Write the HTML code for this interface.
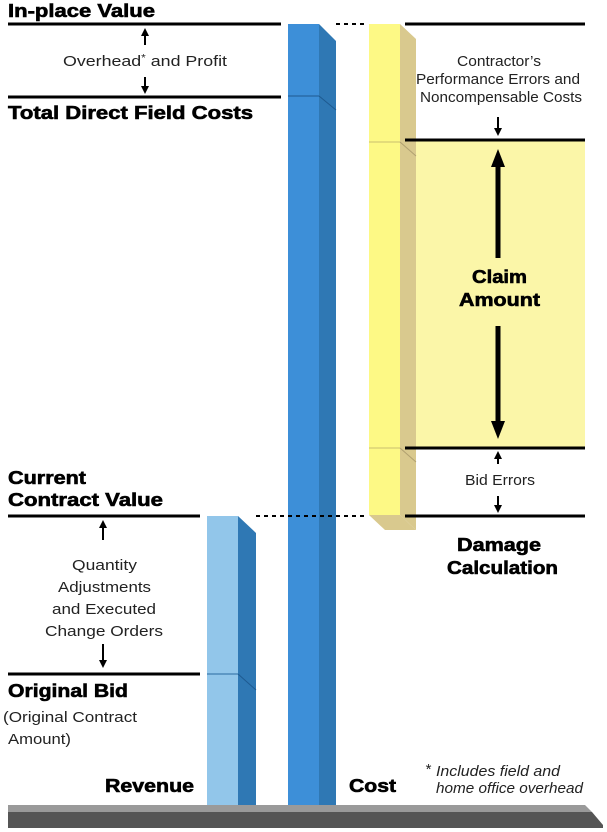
<!DOCTYPE html>
<html><head><style>
html,body{margin:0;padding:0;background:#fff;}
svg{display:block;}
text{font-family:"Liberation Sans",sans-serif;}
.b{font-weight:bold;font-size:18px;fill:#000;stroke:#000;stroke-width:0.6px;}
.n{font-size:15px;fill:#222;}
</style></head><body>
<svg width="607" height="832" viewBox="0 0 607 832">
<defs>
<marker id="a" markerWidth="8" markerHeight="8" refX="4" refY="4" orient="auto" markerUnits="userSpaceOnUse"><path d="M0,0 L8,4 L0,8 z" fill="#000"/></marker>
<marker id="A" markerWidth="18" markerHeight="18" refX="9" refY="9" orient="auto" markerUnits="userSpaceOnUse"><path d="M0,2 L18,9 L0,16 z" fill="#000"/></marker>
</defs>
<rect x="405" y="140" width="180" height="308" fill="#fbf6a8"/>
<polygon points="400,24 416,39 416,530 400,515" fill="#d9c98e"/>
<polygon points="369,515 400,515 416,530 385,530" fill="#d9c98e"/>
<rect x="369" y="24" width="31" height="491" fill="#fdf985"/>
<line x1="369" y1="142" x2="400" y2="142" stroke="#c9c070" stroke-width="1"/>
<line x1="400" y1="142" x2="416" y2="156" stroke="#b0a070" stroke-width="1"/>
<line x1="369" y1="448" x2="400" y2="448" stroke="#c9c070" stroke-width="1"/>
<line x1="400" y1="448" x2="416" y2="462" stroke="#b0a070" stroke-width="1"/>
<polygon points="319,24 336,41 336,805 319,805" fill="#2f78b4"/>
<rect x="288" y="24" width="31" height="781" fill="#3d8fd8"/>
<line x1="288" y1="96" x2="319" y2="96" stroke="#1e5a90" stroke-width="1"/>
<line x1="319" y1="96" x2="336" y2="110" stroke="#1e5a90" stroke-width="1"/>
<polygon points="238,516 256,533 256,805 238,805" fill="#2f78b4"/>
<rect x="207" y="516" width="31" height="289" fill="#92c6ea"/>
<line x1="207" y1="674" x2="238" y2="674" stroke="#2a6aa0" stroke-width="1"/>
<line x1="238" y1="674" x2="256" y2="690" stroke="#1e5a90" stroke-width="1"/>
<polygon points="8,805 585,805 592,812 8,812" fill="#9a9a9a"/>
<polygon points="8,812 592,812 603,825 603,828 8,828" fill="#555"/>
<g stroke="#000" stroke-width="3">
<line x1="8" y1="24" x2="281" y2="24"/>
<line x1="8" y1="97" x2="281" y2="97"/>
<line x1="405" y1="24" x2="585" y2="24"/>
<line x1="405" y1="140" x2="585" y2="140"/>
<line x1="405" y1="448" x2="585" y2="448"/>
<line x1="405" y1="516" x2="585" y2="516"/>
<line x1="8" y1="516" x2="200" y2="516"/>
<line x1="8" y1="674" x2="200" y2="674"/>
</g>
<g stroke="#000" stroke-width="2" stroke-dasharray="4,4">
<line x1="336" y1="24" x2="364" y2="24"/>
<line x1="256" y1="516" x2="364" y2="516"/>
</g>
<g stroke="#000" stroke-width="2">
<line x1="145" y1="45" x2="145" y2="32" marker-end="url(#a)"/>
<line x1="145" y1="77" x2="145" y2="90" marker-end="url(#a)"/>
<line x1="498" y1="117" x2="498" y2="132" marker-end="url(#a)"/>
<line x1="498" y1="464" x2="498" y2="455" marker-end="url(#a)"/>
<line x1="498" y1="496" x2="498" y2="509" marker-end="url(#a)"/>
<line x1="103" y1="540" x2="103" y2="524" marker-end="url(#a)"/>
<line x1="103" y1="644" x2="103" y2="664" marker-end="url(#a)"/>
</g>
<g stroke="#000" stroke-width="5">
<line x1="498" y1="258" x2="498" y2="158" marker-end="url(#A)"/>
<line x1="498" y1="326" x2="498" y2="430" marker-end="url(#A)"/>
</g>
<text class="b" x="8" y="17" textLength="147" lengthAdjust="spacingAndGlyphs">In-place Value</text>
<text class="n" x="63" y="66" textLength="164" lengthAdjust="spacingAndGlyphs">Overhead<tspan dy="-5" font-size="10">*</tspan><tspan dy="5"> and Profit</tspan></text>
<text class="b" x="8" y="119" textLength="245" lengthAdjust="spacingAndGlyphs">Total Direct Field Costs</text>
<text class="n" x="457" y="66" textLength="84" lengthAdjust="spacingAndGlyphs">Contractor’s</text>
<text class="n" x="416" y="84" textLength="164" lengthAdjust="spacingAndGlyphs">Performance Errors and</text>
<text class="n" x="420" y="102" textLength="162" lengthAdjust="spacingAndGlyphs">Noncompensable Costs</text>
<text class="b" x="472" y="283" textLength="55" lengthAdjust="spacingAndGlyphs">Claim</text>
<text class="b" x="459" y="306" textLength="81" lengthAdjust="spacingAndGlyphs">Amount</text>
<text class="n" x="465" y="485" textLength="70" lengthAdjust="spacingAndGlyphs">Bid Errors</text>
<text class="b" x="457" y="551" textLength="84" lengthAdjust="spacingAndGlyphs">Damage</text>
<text class="b" x="447" y="574" textLength="111" lengthAdjust="spacingAndGlyphs">Calculation</text>
<text class="b" x="8" y="484" textLength="78" lengthAdjust="spacingAndGlyphs">Current</text>
<text class="b" x="8" y="506" textLength="155" lengthAdjust="spacingAndGlyphs">Contract Value</text>
<text class="n" x="72" y="570" textLength="65" lengthAdjust="spacingAndGlyphs">Quantity</text>
<text class="n" x="58" y="592" textLength="93" lengthAdjust="spacingAndGlyphs">Adjustments</text>
<text class="n" x="52" y="614" textLength="104" lengthAdjust="spacingAndGlyphs">and Executed</text>
<text class="n" x="45" y="636" textLength="118" lengthAdjust="spacingAndGlyphs">Change Orders</text>
<text class="b" x="8" y="697" textLength="120" lengthAdjust="spacingAndGlyphs">Original Bid</text>
<text class="n" x="3" y="722" textLength="134" lengthAdjust="spacingAndGlyphs">(Original Contract</text>
<text class="n" x="8" y="744" textLength="63" lengthAdjust="spacingAndGlyphs">Amount)</text>
<text class="b" x="105" y="792" textLength="89" lengthAdjust="spacingAndGlyphs">Revenue</text>
<text class="b" x="349" y="792" textLength="47" lengthAdjust="spacingAndGlyphs">Cost</text>
<text class="n" x="425" y="774" font-style="italic" font-size="13">*</text>
<text class="n" x="436" y="776" font-style="italic" font-size="14" textLength="124" lengthAdjust="spacingAndGlyphs">Includes field and</text>
<text class="n" x="436" y="793" font-style="italic" font-size="14" textLength="147" lengthAdjust="spacingAndGlyphs">home office overhead</text>
</svg>
</body></html>
